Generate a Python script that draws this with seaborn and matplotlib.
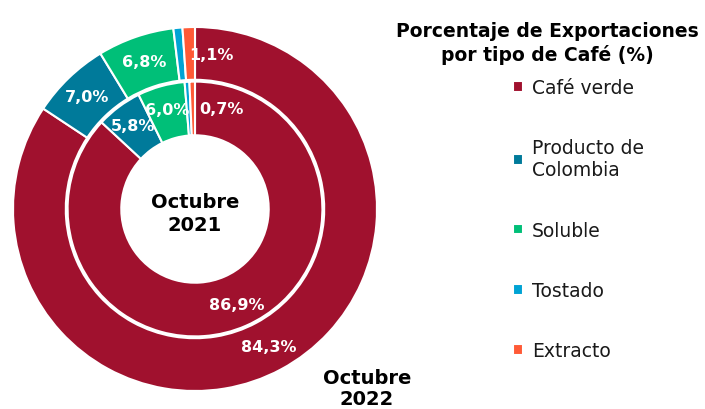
import matplotlib
matplotlib.use("Agg")
import matplotlib.pyplot as plt
import numpy as np
import seaborn as sns

# datos
categorias = ["Café verde", "Producto de\nColombia", "Soluble", "Tostado", "Extracto"]
oct_2022 = [84.3, 7.0, 6.8, 0.8, 1.1]
oct_2021 = [86.9, 5.8, 6.0, 0.6, 0.7]
etiquetas_2022 = ["84,3%", "7,0%", "6,8%", None, "1,1%"]
etiquetas_2021 = ["86,9%", "5,8%", "6,0%", None, "0,7%"]
colores = ["#A0112E", "#007A9A", "#00BF78", "#00A3D4", "#FF5A36"]

sns.set_theme(style="white")
plt.rcParams["font.family"] = ["DejaVu Sans"]
plt.rcParams["text.color"] = "black"

fig = plt.figure(figsize=(7.05, 4.10), dpi=100)
ax = fig.add_axes([13 / 705, 18 / 410, 364 / 705, 364 / 410])

wedge_kw = dict(edgecolor="white", linewidth=1.5)
ext, _ = ax.pie(oct_2022, colors=colores, radius=1.0, startangle=90,
                counterclock=False, wedgeprops=dict(width=0.29, **wedge_kw))
inn, _ = ax.pie(oct_2021, colors=colores, radius=0.70, startangle=90,
                counterclock=False, wedgeprops=dict(width=0.295, **wedge_kw))


def poner_etiquetas(wedges, etiquetas, r, desplaz):
    for w, txt, d in zip(wedges, etiquetas, desplaz):
        if txt is None:
            continue
        ang = np.deg2rad((w.theta1 + w.theta2) / 2 + d)
        ax.text(r * np.cos(ang), r * np.sin(ang), txt, ha="center", va="center",
                color="white", fontsize=11.5, fontweight="bold")


# las etiquetas pequeñas se corren a la derecha del inicio
poner_etiquetas(ext, etiquetas_2022, 0.855, [0, 0, 0, 0, -8])
poner_etiquetas(inn, etiquetas_2021, 0.57, [0, 0, 0, 0, -16])

ax.text(0, -0.02, "Octubre\n2021", ha="center", va="center", fontsize=14,
        fontweight="bold", color="black", linespacing=1.25)
ax.text(0.945, -0.985, "Octubre\n2022", ha="center", va="center", fontsize=14,
        fontweight="bold", color="black", linespacing=1.15)

ax.set_xlim(-1, 1)
ax.set_ylim(-1, 1)
ax.set_aspect("equal")
ax.axis("off")

fig.text(0.776, 0.895, "Porcentaje de Exportaciones\npor tipo de Café (%)",
         ha="center", va="center", fontsize=13.5, fontweight="bold",
         linespacing=1.25)

leg = fig.legend(ext, categorias, loc="upper left", bbox_to_anchor=(0.704, 0.848),
                 frameon=False, fontsize=13.5, handlelength=0.5, handleheight=0.5,
                 handletextpad=0.5, labelspacing=2.2)
for t in leg.get_texts():
    t.set_color("#1a1a1a")

fig.savefig("out.png", dpi=100)
